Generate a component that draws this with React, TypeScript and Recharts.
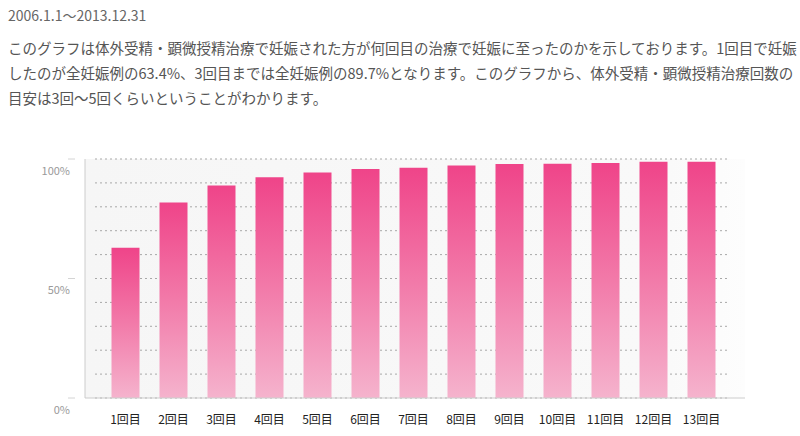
import { Bar, BarChart, CartesianGrid, XAxis, YAxis } from "recharts";

const rounds = ["1回目", "2回目", "3回目", "4回目", "5回目", "6回目", "7回目", "8回目", "9回目", "10回目", "11回目", "12回目", "13回目"];
const cumulativeRate = [62.9, 81.8, 88.9, 92.4, 94.4, 95.8, 96.3, 97.3, 97.9, 98.0, 98.3, 98.8, 98.9];
const yTicks = [0, 10, 20, 30, 40, 50, 60, 70, 80, 90, 100];
const labelledTicks = [0, 50, 100];

const periodText = "2006.1.1～2013.12.31";
const descriptionLines = [
  "このグラフは体外受精・顕微授精治療で妊娠された方が何回目の治療で妊娠に至ったのかを示しております。1回目で妊娠",
  "したのが全妊娠例の63.4%、3回目までは全妊娠例の89.7%となります。このグラフから、体外受精・顕微授精治療回数の",
  "目安は3回〜5回くらいということがわかります。",
];

const data = rounds.map((round, i) => ({ round, rate: cumulativeRate[i] }));

const font = '"Noto Sans CJK JP", "Noto Sans", sans-serif';

function YTick(props: any) {
  const { x, y, payload } = props;
  if (!labelledTicks.includes(payload.value)) return null;
  return (
    <g>
      <line x1={x - 17} x2={x - 10} y1={y} y2={y} stroke="#d4d4d4" />
      <text x={x - 15} y={y + 13} textAnchor="end" dominantBaseline="middle" fontSize={11} fill="#9a9a9a" fontFamily={font}>
        {payload.value}%
      </text>
    </g>
  );
}

function GridLine(props: any) {
  return (
    <line
      key={props.key}
      x1={props.x1 + 10}
      x2={props.x2 - 15}
      y1={props.y1}
      y2={props.y2}
      stroke="#a8a8a8"
      strokeDasharray="2 3"
    />
  );
}

export default function App() {
  return (
    <div style={{ position: "absolute", left: 0, top: 0, width: 800, height: 436, background: "#fff", fontFamily: font }}>
      <div style={{ position: "absolute", left: 8, top: 5, fontSize: 14, lineHeight: "20px", color: "#666", whiteSpace: "nowrap" }}>
        {periodText}
      </div>
      <div style={{ position: "absolute", left: 8, top: 35, fontSize: 14.5, lineHeight: "25px", color: "#555", whiteSpace: "nowrap" }}>
        {descriptionLines.map((line) => (
          <div key={line}>{line}</div>
        ))}
      </div>
      <div style={{ position: "absolute", left: 0, top: 130 }}>
        <BarChart width={800} height={306} data={data} margin={{ top: 29, right: 55, bottom: 0, left: 25 }}>
          <defs>
            <linearGradient id="barFill" x1="0" y1="0" x2="0" y2="1">
              <stop offset="0%" stopColor="#ef4489" />
              <stop offset="50%" stopColor="#f27aa9" />
              <stop offset="100%" stopColor="#f5b3cd" />
            </linearGradient>
            <linearGradient id="bgFill" x1="0" y1="0" x2="1" y2="0">
              <stop offset="0%" stopColor="#f6f6f6" />
              <stop offset="85%" stopColor="#f9f9f9" />
              <stop offset="100%" stopColor="#fdfdfd" />
            </linearGradient>
          </defs>
          <CartesianGrid vertical={false} horizontal={GridLine} fill="url(#bgFill)" fillOpacity={1} />
          <XAxis
            dataKey="round"
            height={38}
            padding={{ left: 16.5, right: 19.5 }}
            axisLine={{ stroke: "#cccccc" }}
            tickLine={false}
            tickMargin={11}
            tick={{ fontSize: 12, fill: "#222", fontFamily: font }}
            interval={0}
          />
          <YAxis
            domain={[0, 100]}
            ticks={yTicks}
            width={60}
            axisLine={{ stroke: "#cccccc" }}
            tickLine={false}
            tickSize={0}
            tickMargin={0}
            tick={YTick}
            interval={0}
          />
          <Bar dataKey="rate" fill="url(#barFill)" barSize={28} isAnimationActive={false} />
        </BarChart>
      </div>
    </div>
  );
}
